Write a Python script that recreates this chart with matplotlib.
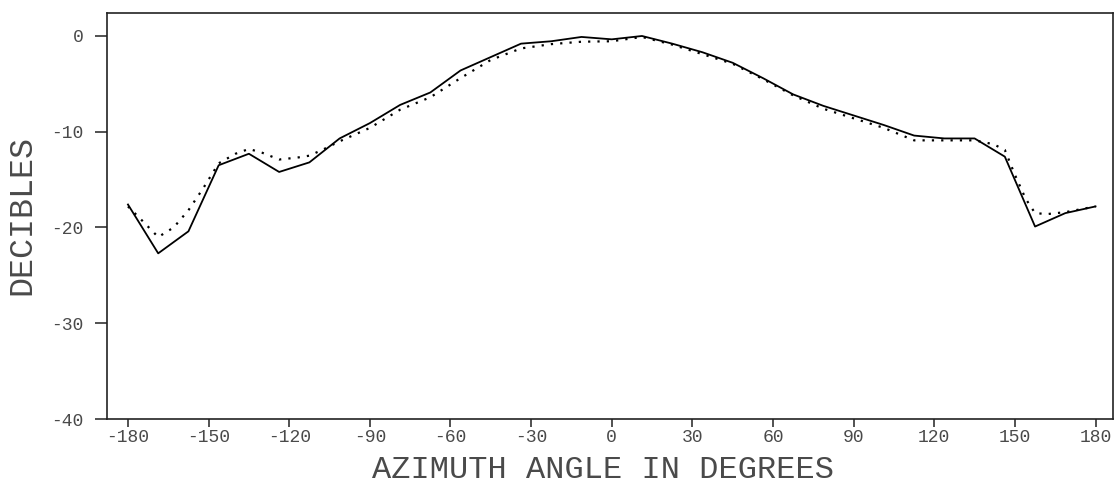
import matplotlib
matplotlib.use("Agg")
import matplotlib.pyplot as plt

plt.rcParams['font.family'] = ['Liberation Mono', 'DejaVu Sans Mono']
plt.rcParams['axes.unicode_minus'] = False

# measured (solid) curve, sampled every 11.25 degrees
solid_x = [-180, -168.75, -157.5, -146.25, -135, -123.75, -112.5, -101.25,
           -90, -78.75, -67.5, -56.25, -45, -33.75, -22.5, -11.25, 0,
           11.25, 22.5, 33.75, 45, 56.25, 67.5, 78.75, 90, 101.25,
           112.5, 123.75, 135, 146.25, 157.5, 168.75, 180]
solid_db = [-17.6, -22.7, -20.4, -13.5, -12.3, -14.2, -13.2, -10.7,
            -9.1, -7.2, -5.9, -3.6, -2.2, -0.8, -0.55, -0.1, -0.35,
            0.0, -0.8, -1.7, -2.8, -4.4, -6.1, -7.3, -8.3, -9.3,
            -10.4, -10.7, -10.7, -12.6, -19.9, -18.5, -17.8]

# dotted curve
dot_x = [-180, -175, -168.75, -163, -157.5, -152, -146.25, -140, -135, -130,
         -123.75, -117, -112.5, -107, -101.25, -90, -78.75, -67.5, -56.25,
         -45, -33.75, -22.5, -11.25, 0, 11.25, 22.5, 33.75, 45, 56.25, 67.5,
         78.75, 90, 101.25, 112.5, 123.75, 135, 142, 146.25, 150, 154, 157.5,
         162, 168.75, 180]
dot_db = [-17.8, -19.2, -21.0, -20.0, -18.2, -15.9, -13.3, -12.3, -11.8, -12.2,
          -12.9, -12.7, -12.5, -11.8, -11.0, -9.6, -7.7, -6.4, -4.4,
          -2.5, -1.3, -0.85, -0.6, -0.55, -0.1, -0.9, -1.9, -2.9, -4.5, -6.2,
          -7.6, -8.6, -9.6, -10.9, -10.9, -10.9, -11.3, -11.9, -14.5, -17.0, -18.5,
          -18.6, -18.4, -17.8]

x_ticks = [-180, -150, -120, -90, -60, -30, 0, 30, 60, 90, 120, 150, 180]
y_ticks = [0, -10, -20, -30, -40]

text_color = '#4a4a4a'

fig = plt.figure(figsize=(11.2, 4.93), dpi=100)
ax = fig.add_axes([107/1120, 1 - 419/493, (1113 - 107)/1120, (419 - 13)/493])

ax.plot(solid_x, solid_db, color='black', lw=1.3)
ax.plot(dot_x, dot_db, color='black', lw=1.6, linestyle=(0, (1, 3.2)))

ax.set_xlim(-187.8, 186.5)
ax.set_ylim(-40, 2.4)
ax.set_xticks(x_ticks)
ax.set_xticklabels([str(v) for v in x_ticks])
ax.set_yticks(y_ticks)
ax.set_yticklabels([str(v) for v in y_ticks])

for s in ax.spines.values():
    s.set_linewidth(1.2)
    s.set_color('#222222')

ax.tick_params(axis='y', direction='out', length=9, width=1.1, pad=8,
               labelsize=13, labelcolor=text_color, color='#222222')
ax.tick_params(axis='x', direction='out', length=5.5, width=1.1, pad=2,
               labelsize=13, labelcolor=text_color, color='#222222')

fig.text(603/1120, 1 - 470/493, 'AZIMUTH ANGLE IN DEGREES', ha='center', va='center',
         fontsize=23, color=text_color)
fig.text(22/1120, 1 - 215/493, 'DECIBLES', ha='center', va='center', rotation=90,
         fontsize=24, color=text_color)

fig.savefig('out.png', dpi=100, facecolor='white')
